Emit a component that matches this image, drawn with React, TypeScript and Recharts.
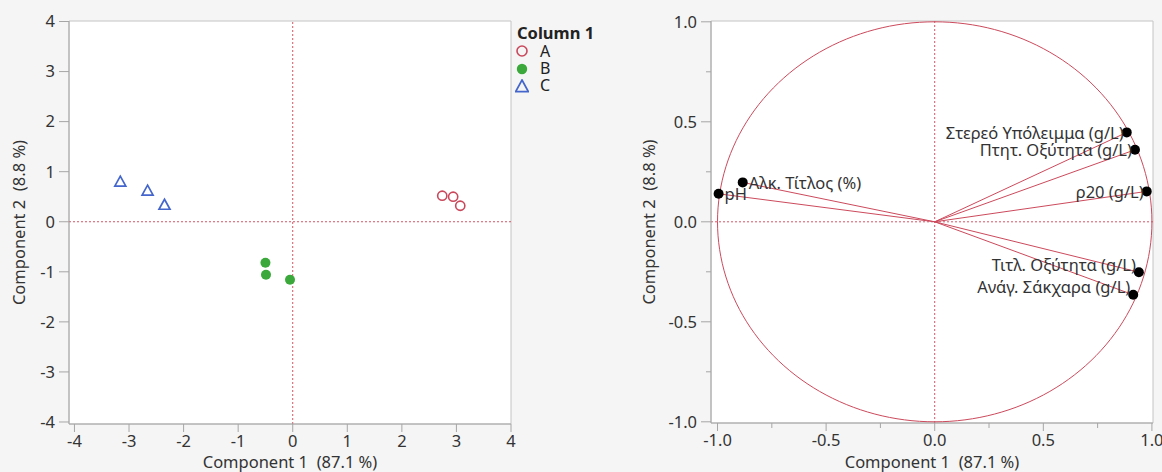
import React from 'react';
import { ScatterChart, Scatter, XAxis, YAxis, ReferenceLine, ReferenceArea, CartesianGrid, Legend } from 'recharts';

// ---- Score plot data (Column 1 groups) ----
const groupNames = ['A', 'B', 'C'];
const groupAx = [2.74, 2.94, 3.07];
const groupAy = [0.52, 0.50, 0.32];
const groupBx = [-0.50, -0.49, -0.05];
const groupBy = [-0.82, -1.06, -1.16];
const groupCx = [-3.16, -2.66, -2.35];
const groupCy = [0.80, 0.62, 0.34];
const scoreTicks = [-4, -3, -2, -1, 0, 1, 2, 3, 4];

// ---- Loading plot data ----
const loadingNames = [
  'pH',
  'Αλκ. Τίτλος (%)',
  'Στερεό Υπόλειμμα (g/L)',
  'Πτητ. Οξύτητα (g/L)',
  'ρ20 (g/L)',
  'Τιτλ. Οξύτητα (g/L)',
  'Ανάγ. Σάκχαρα (g/L)',
];
const loadingX = [-0.995, -0.884, 0.884, 0.922, 0.976, 0.94, 0.914];
const loadingY = [0.14, 0.197, 0.447, 0.36, 0.152, -0.252, -0.365];
const loadingTicks = [-1, -0.75, -0.5, -0.25, 0, 0.25, 0.5, 0.75, 1];

const xLabel = 'Component 1\u00a0 (87.1 %)';
const yLabel = 'Component 2\u00a0 (8.8 %)';
const legendTitle = 'Column 1';

const FONT = '"Noto Sans", "Open Sans", sans-serif';
const FS = 16.5;
const TEXT = '#333333';
const AXIS = '#a6a6a6';
const FRAME = '#c4c4c4';
const RED = '#cc4a5c';
const DOT_RED = '#d45566';
const COLOR_A = '#c9485b';
const COLOR_B = '#3aa83a';
const COLOR_C = '#4466cc';

const toPts = (xs: number[], ys: number[]) => xs.map((x, i) => ({ x, y: ys[i] }));
const dataA = toPts(groupAx, groupAy);
const dataB = toPts(groupBx, groupBy);
const dataC = toPts(groupCx, groupCy);
const loadings = loadingNames.map((name, i) => ({ name, x: loadingX[i], y: loadingY[i] }));

const unitCircle = Array.from({ length: 181 }, (_, i) => {
  const a = (i * 2 * Math.PI) / 180;
  return { x: Math.cos(a), y: Math.sin(a) };
});

const OpenCircle = (p: any) => (
  <circle cx={p.cx} cy={p.cy} r={4.6} fill="none" stroke={COLOR_A} strokeWidth={1.6} />
);
const FilledCircle = (p: any) => <circle cx={p.cx} cy={p.cy} r={5} fill={COLOR_B} />;
const OpenTriangle = (p: any) => (
  <path
    d={`M${p.cx},${p.cy - 5.5} L${p.cx + 5.5},${p.cy + 4.5} L${p.cx - 5.5},${p.cy + 4.5} Z`}
    fill="none"
    stroke={COLOR_C}
    strokeWidth={1.7}
  />
);

const legendSymbols = [
  <circle key="a" cx={7} cy={7} r={5} fill="none" stroke={COLOR_A} strokeWidth={1.6} />,
  <circle key="b" cx={7} cy={7} r={5.2} fill={COLOR_B} />,
  <path key="c" d="M7,1 L13.3,12.6 L0.7,12.6 Z" fill="none" stroke={COLOR_C} strokeWidth={1.7} />,
];

const LegendContent = () => (
  <div style={{ fontFamily: FONT, color: '#222', fontSize: FS, textAlign: 'left' }}>
    <div style={{ fontWeight: 700, height: 19.5, lineHeight: '19px', whiteSpace: 'nowrap', paddingLeft: 2 }}>
      {legendTitle}
    </div>
    {groupNames.map((g, i) => (
      <div key={g} style={{ display: 'flex', alignItems: 'center', height: 17.4 }}>
        <svg width={14} height={14} style={{ display: 'block', flex: 'none' }}>
          {legendSymbols[i]}
        </svg>
        <span style={{ display: 'block', marginLeft: 11, height: 17, lineHeight: '17px', fontSize: 16, overflow: 'visible' }}>
          {g}
        </span>
      </div>
    ))}
  </div>
);

const yAxisLabel = (cx: number) => (props: any) => {
  const vb = props.viewBox || {};
  const cy = vb.y + vb.height / 2;
  return (
    <text
      x={cx}
      y={cy}
      transform={`rotate(-90 ${cx} ${cy})`}
      textAnchor="middle"
      dominantBaseline="central"
      fill={TEXT}
      fontSize={FS}
      fontFamily={FONT}
    >
      {yLabel}
    </text>
  );
};

const xAxisLabel = (cy: number) => (props: any) => {
  const vb = props.viewBox || {};
  const cx = vb.x + vb.width / 2;
  return (
    <text x={cx} y={cy} textAnchor="middle" dominantBaseline="central" fill={TEXT} fontSize={FS} fontFamily={FONT}>
      {xLabel}
    </text>
  );
};

// custom ticks with major/minor marks for loading plot
const X_TS = 8;
const X_TM = 3;
const Y_TS = 10;
const Y_TM = 4;
const isMajor = (v: number) => Math.abs(v * 2 - Math.round(v * 2)) < 1e-6;

const LoadXTick = (p: any) => {
  const v = p.payload.value;
  const axisY = p.y - X_TS - X_TM;
  const major = isMajor(v);
  return (
    <g>
      <line x1={p.x} x2={p.x} y1={axisY} y2={axisY + (major ? X_TS : 5)} stroke={AXIS} />
      {major && (
        <text x={p.x} y={p.y} dy="0.71em" textAnchor="middle" fill={TEXT} fontSize={FS} fontFamily={FONT}>
          {v.toFixed(1)}
        </text>
      )}
    </g>
  );
};
const LoadYTick = (p: any) => {
  const v = p.payload.value;
  const axisX = p.x + Y_TS + Y_TM;
  const major = isMajor(v);
  return (
    <g>
      <line x1={axisX} x2={axisX - (major ? Y_TS : 5)} y1={p.y} y2={p.y} stroke={AXIS} />
      {major && (
        <text x={p.x} y={p.y} dy="0.355em" textAnchor="end" fill={TEXT} fontSize={FS} fontFamily={FONT}>
          {v.toFixed(1)}
        </text>
      )}
    </g>
  );
};

const LoadingPoint = (p: any) => {
  const left = p.payload.x < 0;
  const below = p.payload.y < 0;
  return (
    <g>
      <circle cx={p.cx} cy={p.cy} r={5} fill="#000" />
      <text
        x={left ? p.cx + 6 : p.cx - 3}
        y={below ? p.cy - 8 : p.cy}
        textAnchor={left ? 'start' : 'end'}
        dominantBaseline="central"
        fill={TEXT}
        fontSize={FS}
        fontFamily={FONT}
      >
        {p.payload.name}
      </text>
    </g>
  );
};

const tickStyle = { fill: TEXT, fontSize: FS, fontFamily: FONT };

export default function App() {
  return (
    <div
      style={{
        position: 'absolute',
        left: 0,
        top: 0,
        width: 1162,
        height: 472,
        background: '#f5f5f5',
        fontFamily: FONT,
        overflow: 'hidden',
      }}
    >
      <div style={{ position: 'absolute', left: 0, top: 0 }}>
        <ScatterChart width={600} height={472} margin={{ top: 21, right: 4, bottom: 0, left: 0 }}>
          <CartesianGrid fill="#ffffff" horizontal={false} vertical={false} />
          <ReferenceArea x1={-4.1} x2={4} y1={-4.04} y2={4.01} fill="none" stroke={FRAME} ifOverflow="extendDomain" />
          <XAxis
            type="number"
            dataKey="x"
            domain={[-4.1, 4]}
            ticks={scoreTicks}
            allowDataOverflow
            height={48}
            tickSize={X_TS}
            tickMargin={X_TM}
            axisLine={{ stroke: AXIS }}
            tickLine={{ stroke: AXIS }}
            tick={tickStyle}
            label={xAxisLabel(461.5)}
          />
          <YAxis
            type="number"
            dataKey="y"
            domain={[-4.04, 4.01]}
            ticks={scoreTicks}
            allowDataOverflow
            width={69}
            tickSize={Y_TS}
            tickMargin={Y_TM}
            axisLine={{ stroke: AXIS }}
            tickLine={{ stroke: AXIS }}
            tick={tickStyle}
            label={yAxisLabel(18)}
          />
          <ReferenceLine x={0} stroke={DOT_RED} strokeDasharray="2 2" />
          <ReferenceLine y={0} stroke={DOT_RED} strokeDasharray="2 2" />
          <Legend
            layout="vertical"
            align="right"
            verticalAlign="top"
            width={85}
            wrapperStyle={{ left: 515, top: 23, width: 85, textAlign: 'left' }}
            content={<LegendContent />}
          />
          <Scatter name="A" data={dataA} shape={OpenCircle} isAnimationActive={false} />
          <Scatter name="B" data={dataB} shape={FilledCircle} isAnimationActive={false} />
          <Scatter name="C" data={dataC} shape={OpenTriangle} isAnimationActive={false} />
        </ScatterChart>
      </div>
      <div style={{ position: 'absolute', left: 600, top: 0 }}>
        <ScatterChart width={562} height={472} margin={{ top: 21, right: 9, bottom: 0, left: 0 }}>
          <CartesianGrid fill="#ffffff" horizontal={false} vertical={false} />
          <ReferenceArea x1={-1.03} x2={1.005} y1={-1.006} y2={1.004} fill="none" stroke={FRAME} ifOverflow="extendDomain" />
          <XAxis
            type="number"
            dataKey="x"
            domain={[-1.03, 1.005]}
            ticks={loadingTicks}
            allowDataOverflow
            height={49}
            tickSize={X_TS}
            tickMargin={X_TM}
            axisLine={{ stroke: AXIS }}
            tickLine={{ stroke: 'none' }}
            tick={<LoadXTick />}
            label={xAxisLabel(461.5)}
          />
          <YAxis
            type="number"
            dataKey="y"
            domain={[-1.006, 1.004]}
            ticks={loadingTicks}
            allowDataOverflow
            width={111}
            tickSize={Y_TS}
            tickMargin={Y_TM}
            axisLine={{ stroke: AXIS }}
            tickLine={{ stroke: 'none' }}
            tick={<LoadYTick />}
            label={yAxisLabel(48)}
          />
          <ReferenceLine x={0} stroke={DOT_RED} strokeDasharray="2 2" />
          <ReferenceLine y={0} stroke={DOT_RED} strokeDasharray="2 2" />
          {loadings.map((l) => (
            <ReferenceLine
              key={l.name}
              segment={[
                { x: 0, y: 0 },
                { x: l.x, y: l.y },
              ]}
              stroke={RED}
              strokeWidth={1}
            />
          ))}
          <Scatter
            name="circle"
            data={unitCircle}
            line={{ stroke: RED, strokeWidth: 1 }}
            shape={() => <g />}
            isAnimationActive={false}
          />
          <Scatter name="loadings" data={loadings} shape={LoadingPoint} isAnimationActive={false} />
        </ScatterChart>
      </div>
    </div>
  );
}
